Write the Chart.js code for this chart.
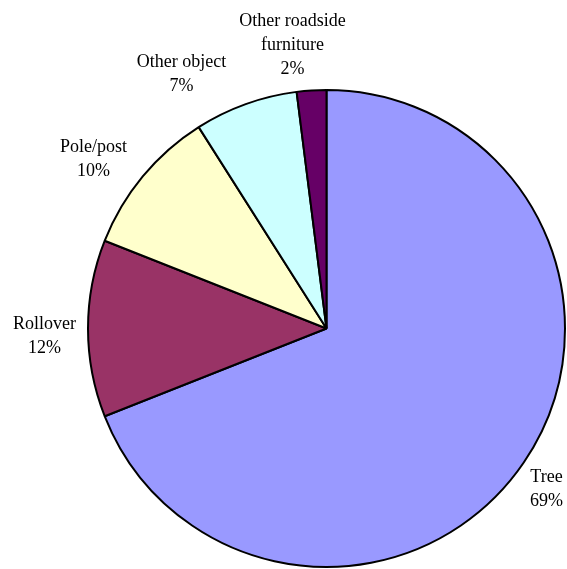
<!DOCTYPE html>
<html>
<head>
<meta charset="utf-8">
<script src="https://cdn.jsdelivr.net/npm/chart.js@4"></script>
<style>
  html, body { margin: 0; padding: 0; background: #fff; }
  #wrap { width: 567px; height: 569px; }
</style>
</head>
<body>
<div id="wrap"><canvas id="pie" width="567" height="569"></canvas></div>
<script>
// ----- Données -----
const categories = ['Tree', 'Rollover', 'Pole/post', 'Other object', 'Other roadside furniture'];
const labelLines = [['Tree'], ['Rollover'], ['Pole/post'], ['Other object'], ['Other roadside', 'furniture']];
const percents = [69, 12, 10, 7, 2];
const colors = ['#9999ff', '#993366', '#ffffcc', '#ccffff', '#660066'];

// offsets of each label (first baseline, centre x) from the pie centre
const labelOffsets = [[220, 153], [-282, 0], [-233, -177], [-145, -262], [-34, -303]];

const pieLabels = {
  id: 'pieLabels',
  afterDraw(chart) {
    const ctx = chart.ctx;
    const meta = chart.getDatasetMeta(0);
    ctx.save();
    ctx.font = '18px "Liberation Serif", "Times New Roman", serif';
    ctx.fillStyle = '#000';
    ctx.textAlign = 'center';
    ctx.textBaseline = 'alphabetic';
    meta.data.forEach((arc, i) => {
      const lines = labelLines[i].concat([percents[i] + '%']);
      const x = arc.x + labelOffsets[i][0];
      let y = arc.y + labelOffsets[i][1];
      lines.forEach(l => {
        ctx.fillText(l, x, y);
        y += 24;
      });
    });
    ctx.restore();
  }
};

new Chart(document.getElementById('pie').getContext('2d'), {
  type: 'pie',
  data: {
    labels: categories,
    datasets: [{
      data: percents,
      backgroundColor: colors,
      borderColor: '#000',
      borderWidth: 2
    }]
  },
  options: {
    responsive: false,
    animation: false,
    layout: { padding: { left: 87, top: 89, right: 1, bottom: 1 } },
    plugins: {
      legend: { display: false },
      tooltip: { enabled: false }
    }
  },
  plugins: [pieLabels]
});
</script>
</body>
</html>
